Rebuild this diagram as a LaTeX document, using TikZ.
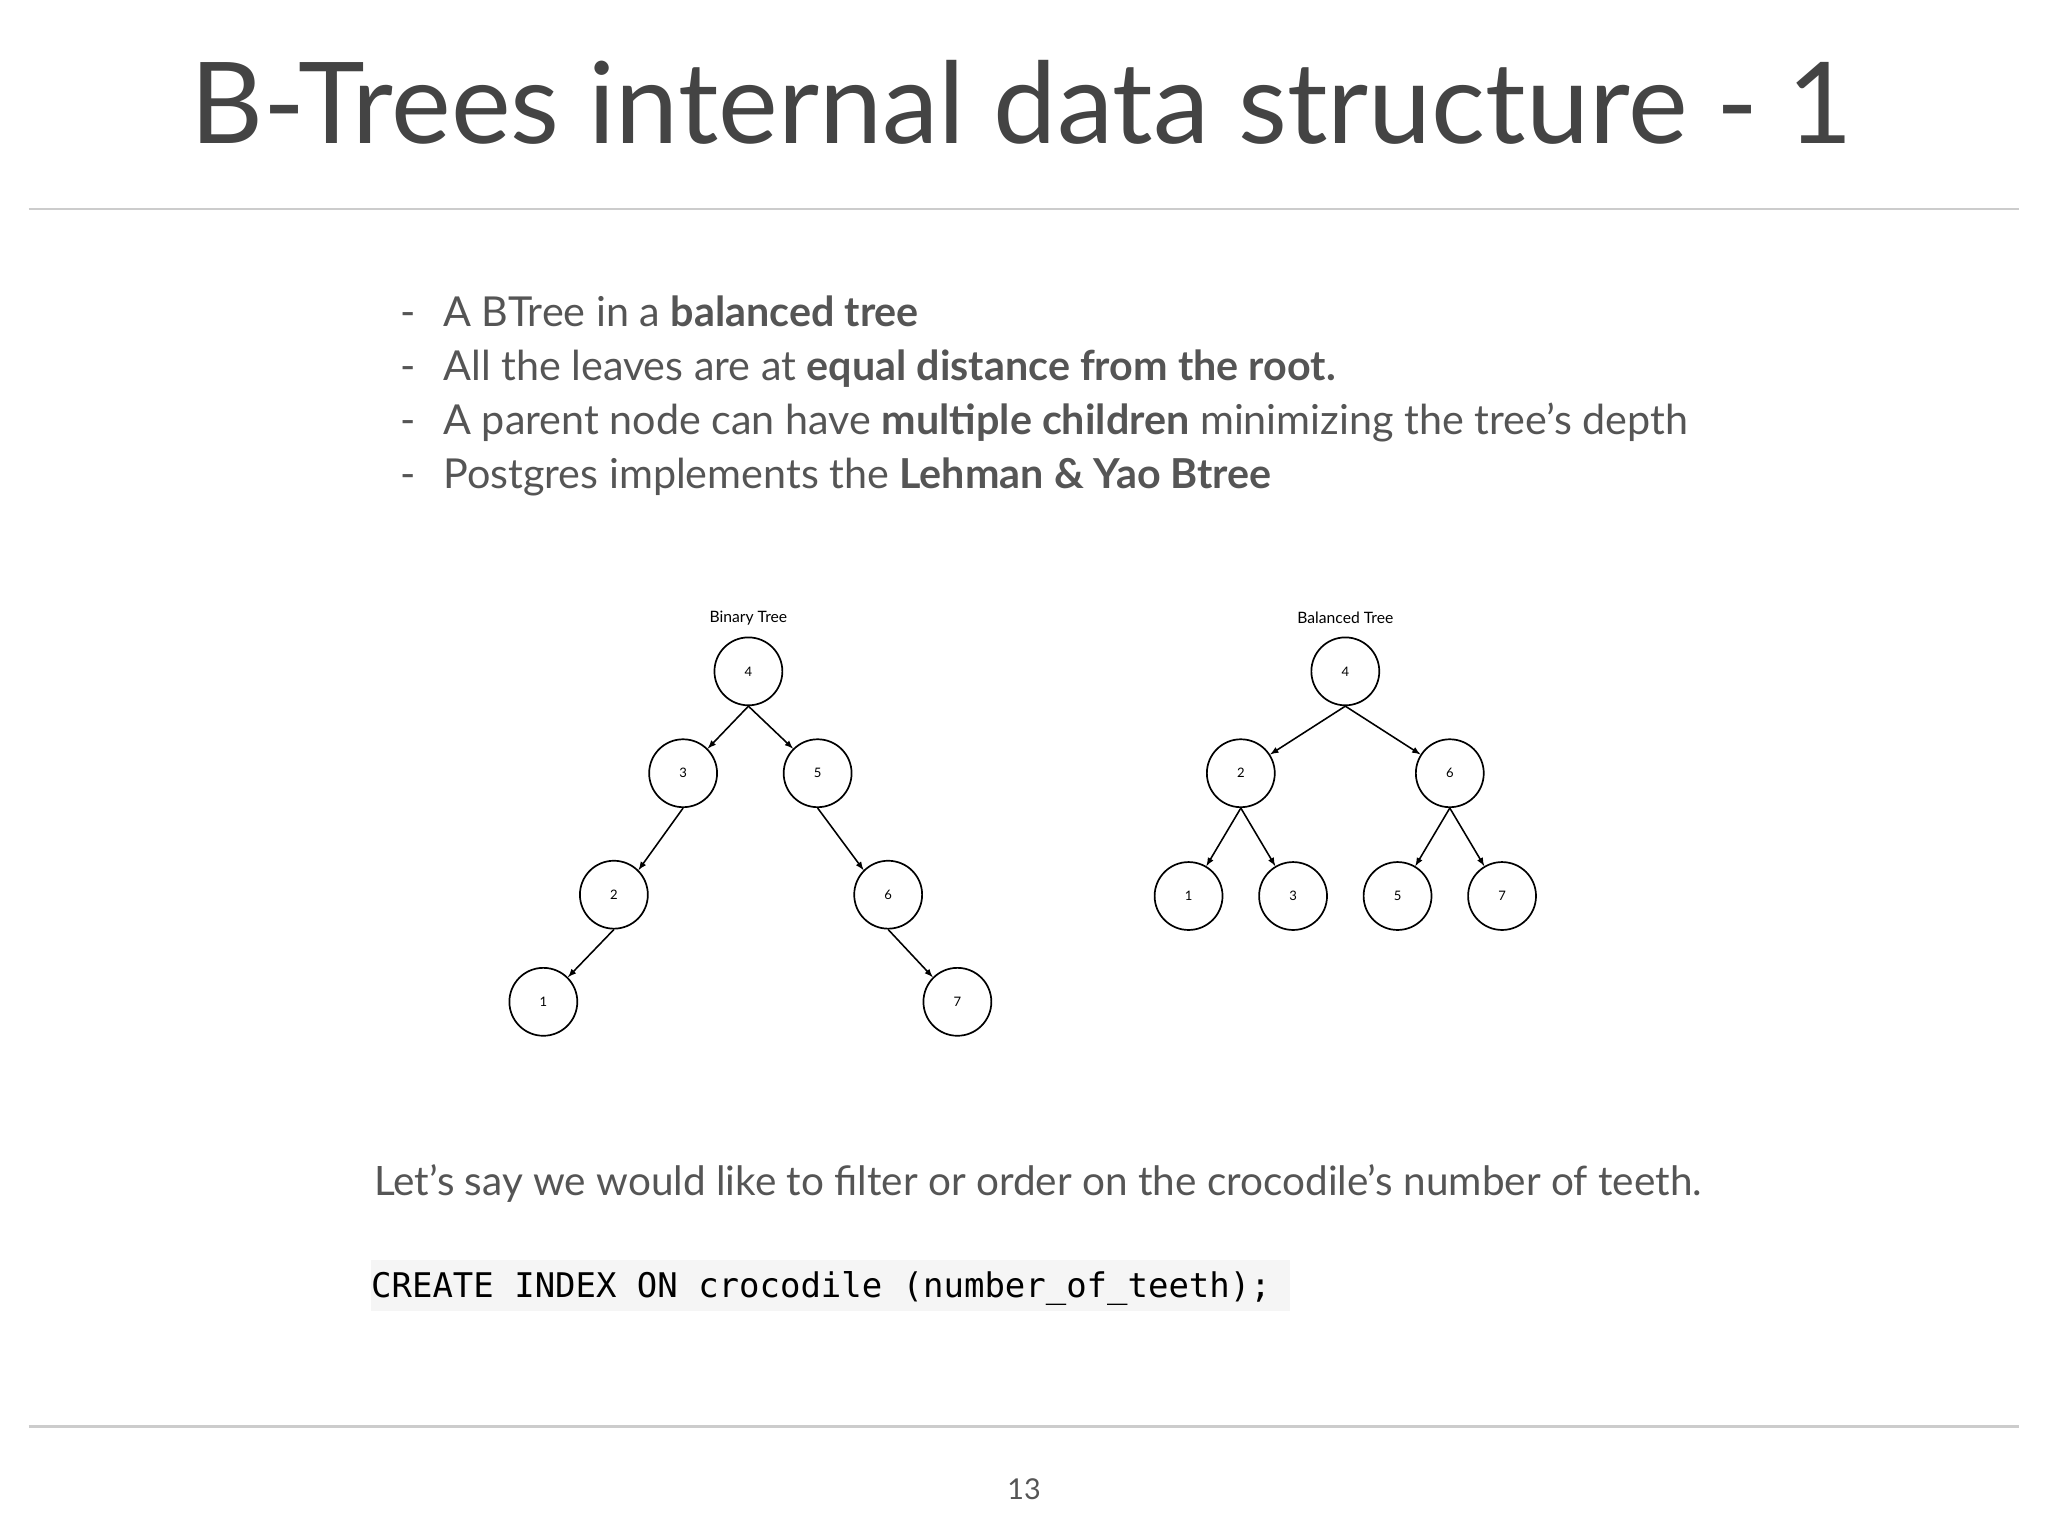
\documentclass[tikz,border=0pt]{standalone}
\usepackage{fontspec}
\setmainfont{Lato}
\setmonofont{DejaVu Sans Mono}
\definecolor{tx}{HTML}{555555}
\definecolor{ti}{HTML}{444444}
\begin{document}
\begin{tikzpicture}[x=1pt,y=-1pt,
  tn/.style={circle,draw,line width=1.3pt,minimum size=52pt,inner sep=0pt,font=\fontsize{10}{10}\selectfont},
  ed/.style={-latex,line width=1.2pt},
  bl/.style={anchor=base west,text=tx,font=\fontsize{31.6}{32}\selectfont}]
\useasboundingbox (0,0) rectangle (1568,1176);
\node[anchor=base,text=ti,font=\fontsize{86.5}{87}\selectfont] (title) at (782,110) {B-Trees internal data structure - 1};
\draw[gray!40,line width=2pt] (22,160) -- (1546,160);
\draw[gray!40,line width=2pt] (22,1092) -- (1546,1092);
\foreach \y/\t [count=\i] in {250/{A BTree in a \textbf{balanced tree}},291/{All the leaves are at \textbf{equal distance from the root.}},333/{A parent node can have \textbf{multiple children} minimizing the tree’s depth},374/{Postgres implements the \textbf{Lehman \& Yao Btree}}}{
  \node[bl] (d\i) at (303,\y) {-};
  \node[bl] (b\i) at (336,\y) {\t};
}
\node[font=\fontsize{12}{12}\selectfont] (lb1) at (573,473) {Binary Tree};
\node[font=\fontsize{12}{12}\selectfont] (lb2) at (1030,473) {Balanced Tree};
\node[tn] (a4) at (573,514) {4};
\node[tn] (a3) at (523,592) {3};
\node[tn] (a5) at (626,592) {5};
\node[tn] (a2) at (470,685) {2};
\node[tn] (a6) at (680,685) {6};
\node[tn] (a1) at (416,767) {1};
\node[tn] (a7) at (733,767) {7};
\draw[ed] (a4.south) -- (a3.north east); \draw[ed] (a4.south) -- (a5.north west);
\draw[ed] (a3.south) -- (a2.north east); \draw[ed] (a5.south) -- (a6.north west);
\draw[ed] (a2.south) -- (a1.north east); \draw[ed] (a6.south) -- (a7.north west);
\node[tn] (c4) at (1030,514) {4};
\node[tn] (c2) at (950,592) {2};
\node[tn] (c6) at (1110,592) {6};
\node[tn] (c1) at (910,686) {1};
\node[tn] (c3) at (990,686) {3};
\node[tn] (c5) at (1070,686) {5};
\node[tn] (c7) at (1150,686) {7};
\draw[ed] (c4.south) -- (c2); \draw[ed] (c4.south) -- (c6);
\draw[ed] (c2.south) -- (c1); \draw[ed] (c2.south) -- (c3);
\draw[ed] (c6.south) -- (c5); \draw[ed] (c6.south) -- (c7);
\node[bl,font=\fontsize{31}{31}\selectfont] (say) at (283,915) {Let’s say we would like to filter or order on the crocodile’s number of teeth.};
\fill[gray!8] (284,965) rectangle (988,1004);
\node[anchor=base west,inner sep=0pt,font=\fontsize{26}{26}\ttfamily] (code) at (284,993) {CREATE INDEX ON crocodile (number\_of\_teeth);};
\node[anchor=base,text=tx,font=\fontsize{22}{22}\selectfont] (pg) at (784,1148) {13};
\end{tikzpicture}
\end{document}
